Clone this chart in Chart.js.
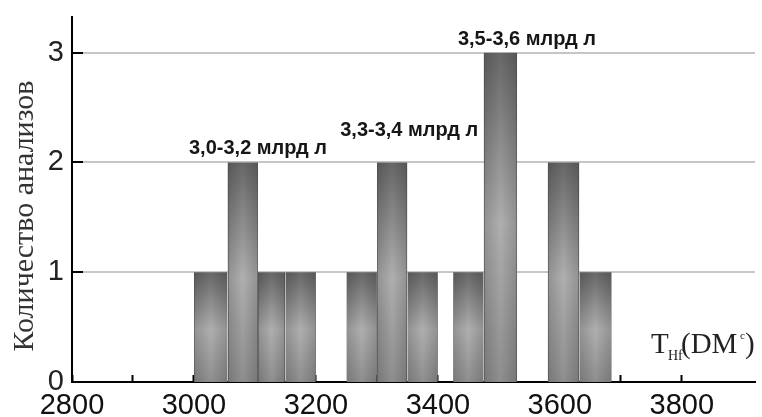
<!DOCTYPE html>
<html>
<head>
<meta charset="utf-8">
<script src="https://cdn.jsdelivr.net/npm/chart.js@4"></script>
<style>
  html, body { margin: 0; padding: 0; background: #fff; }
  #wrap { width: 762px; height: 417px; position: relative; }
</style>
</head>
<body>
<div id="wrap"><canvas id="c" width="762" height="417"></canvas></div>
<script>
// ---- data ----
const binStart = [3000, 3055, 3105, 3150, 3250, 3300, 3350, 3425, 3475, 3580, 3632];
const binEnd   = [3055, 3105, 3150, 3200, 3300, 3350, 3400, 3475, 3530, 3632, 3685];
const counts   = [1, 2, 1, 1, 1, 2, 1, 1, 3, 2, 1];
const xLabelStep = 200;
const yTitle = 'Количество анализов';
const annTexts = ['3,0-3,2 млрд л', '3,3-3,4 млрд л', '3,5-3,6 млрд л'];
const annX = [3105, 3353, 3546];
const annY = [2.13, 2.29, 3.12];

function barFill(ctx) {
  const chart = ctx.chart;
  const i = ctx.datasetIndex;
  const xs = chart.scales && chart.scales.x, ys = chart.scales && chart.scales.y;
  if (!xs || !ys || !chart.chartArea || i === undefined) return '#8a8a8a';
  const x0 = xs.getPixelForValue(binStart[i]), x1 = xs.getPixelForValue(binEnd[i]);
  const yT = ys.getPixelForValue(counts[i]), yB = ys.getPixelForValue(0);
  const fx = Math.floor(x0), fy = Math.floor(yT);
  const w = Math.max(2, Math.ceil(x1 - fx) + 1), h = Math.max(2, Math.ceil(yB - fy) + 1);
  const c = document.createElement('canvas');
  c.width = w; c.height = h;
  const g = c.getContext('2d');
  const lg = g.createLinearGradient(0, 0, 0, h);
  lg.addColorStop(0, '#676767');
  lg.addColorStop(0.52, '#afafaf');
  lg.addColorStop(1, '#8e8e8e');
  g.fillStyle = lg; g.fillRect(0, 0, w, h);
  const hg = g.createLinearGradient(x0 - fx, 0, x1 - fx, 0);
  hg.addColorStop(0, 'rgba(0,0,0,0.17)');
  hg.addColorStop(0.5, 'rgba(0,0,0,0)');
  hg.addColorStop(1, 'rgba(0,0,0,0.17)');
  g.fillStyle = hg; g.fillRect(0, 0, w, h);
  g.fillStyle = 'rgba(70,70,70,0.5)';
  g.fillRect(Math.round(x0 - fx), 0, 1, h);
  g.fillRect(Math.round(x1 - fx) - 1, 0, 1, h);
  const p = chart.ctx.createPattern(c, 'no-repeat');
  p.setTransform(new DOMMatrix().translate(fx, fy));
  return p;
}

const datasets = counts.map((v, i) => ({
  data: [{x: binStart[i], y: v}, {x: binEnd[i], y: v}],
  fill: {value: 0},
  backgroundColor: barFill,
  borderWidth: 0,
  borderColor: 'rgba(0,0,0,0)',
  pointRadius: 0,
  tension: 0
}));

const textPlugin = {
  id: 'texts',
  afterDraw(chart) {
    const ctx = chart.ctx;
    const xs = chart.scales.x, ys = chart.scales.y;
    ctx.save();
    // annotations
    ctx.font = 'bold 20px "Liberation Sans", Arial, sans-serif';
    ctx.fillStyle = '#161616';
    ctx.textAlign = 'center';
    ctx.textBaseline = 'middle';
    annTexts.forEach((t, i) => {
      ctx.fillText(t, xs.getPixelForValue(annX[i]), ys.getPixelForValue(annY[i]));
    });
    // y title
    ctx.save();
    ctx.translate(33, 216);
    ctx.rotate(-Math.PI / 2);
    ctx.font = '30px "Liberation Serif", "Times New Roman", serif';
    ctx.fillStyle = '#333';
    ctx.textAlign = 'center';
    ctx.textBaseline = 'alphabetic';
    ctx.fillText(yTitle, 0, 0);
    ctx.restore();
    // x title  T_Hf(DM^c)
    ctx.fillStyle = '#222';
    ctx.textAlign = 'left';
    ctx.textBaseline = 'alphabetic';
    ctx.font = '29px "Liberation Serif", "Times New Roman", serif';
    ctx.fillText('T', 651, 353);
    ctx.font = '14px "Liberation Serif", "Times New Roman", serif';
    ctx.fillText('Hf', 668, 360);
    ctx.font = '29px "Liberation Serif", "Times New Roman", serif';
    ctx.fillText('(DM', 681, 353);
    ctx.font = '11px "Liberation Serif", "Times New Roman", serif';
    ctx.fillText('c', 740, 339);
    ctx.font = '29px "Liberation Serif", "Times New Roman", serif';
    ctx.fillText(')', 745, 353);
    ctx.restore();
  }
};

Chart.defaults.font.family = '"Liberation Sans", Arial, sans-serif';

new Chart(document.getElementById('c'), {
  type: 'line',
  data: { datasets },
  options: {
    responsive: false,
    animation: false,
    events: [],
    layout: { padding: { top: 17, right: 7, left: 0, bottom: 0 } },
    plugins: { legend: { display: false }, tooltip: { enabled: false } },
    scales: {
      x: {
        type: 'linear',
        min: 2800,
        max: 3920,
        z: 1,
        border: { display: true, color: '#000', width: 2 },
        grid: {
          drawOnChartArea: false,
          drawTicks: true,
          tickLength: -7,
          tickWidth: 2,
          tickColor: '#000'
        },
        ticks: {
          stepSize: 100,
          includeBounds: false,
          autoSkip: false,
          maxRotation: 0,
          padding: 14,
          color: '#111',
          font: { size: 29 },
          callback: v => (v % xLabelStep === 0 ? String(v) : '')
        },
        afterBuildTicks: s => { s.ticks = s.ticks.filter(t => t.value <= 3800); },
        afterFit: s => { s.height = 35; s.paddingLeft = 0; s.paddingRight = 0; }
      },
      y: {
        type: 'linear',
        min: 0,
        max: 3.325,
        z: 1,
        border: { display: true, color: '#000', width: 2 },
        grid: {
          color: c => (c.tick && c.tick.value === 0 ? 'rgba(0,0,0,0)' : 'rgba(192,192,192,0.9)'),
          lineWidth: 2,
          drawTicks: true,
          tickLength: -11,
          tickWidth: 2,
          tickColor: c => (c.tick && c.tick.value === 0 ? 'rgba(0,0,0,0)' : '#000')
        },
        ticks: {
          stepSize: 1,
          includeBounds: false,
          padding: 19,
          color: '#222',
          font: { size: 29 }
        },
        afterFit: s => { s.width = 72; s.paddingTop = 0; s.paddingBottom = 0; }
      }
    }
  },
  plugins: [textPlugin]
});
</script>
</body>
</html>
